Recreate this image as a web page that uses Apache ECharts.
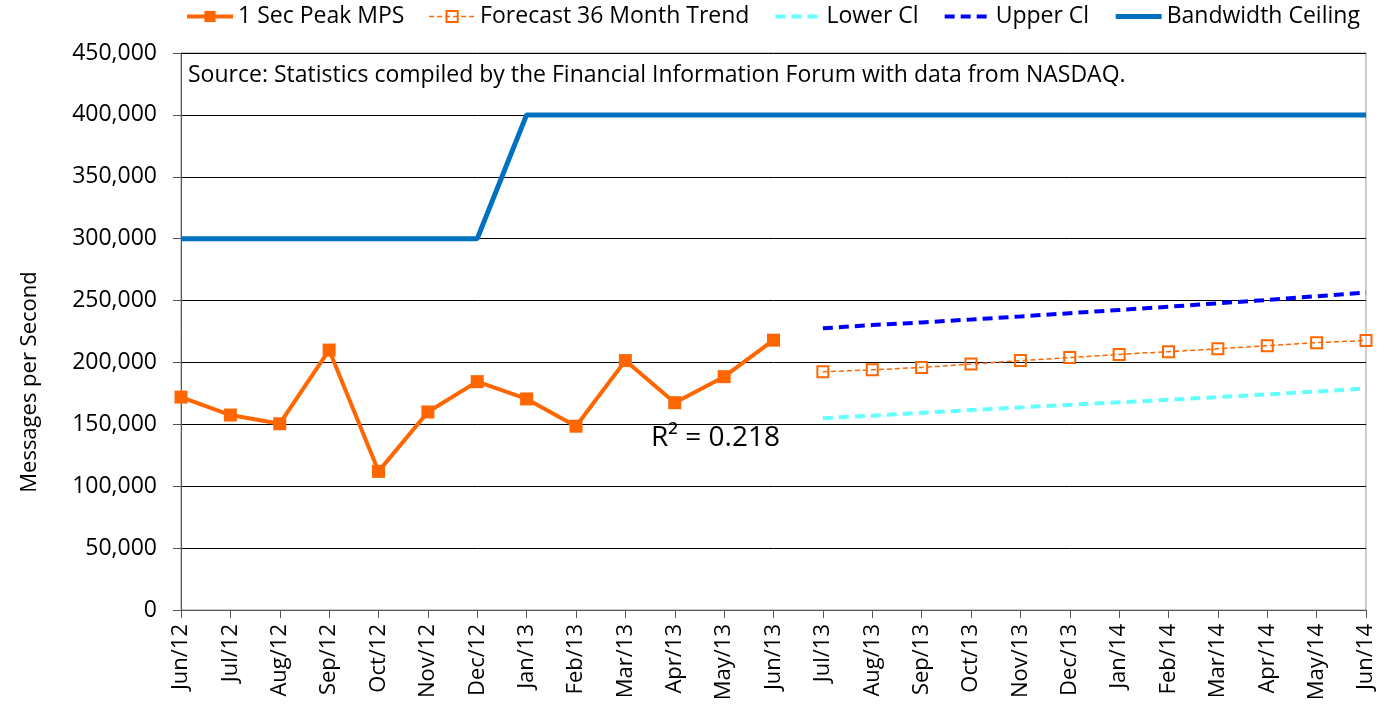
<!DOCTYPE html>
<html>
<head>
<meta charset="utf-8">
<script src="https://cdn.jsdelivr.net/npm/echarts@6/dist/echarts.min.js"></script>
<style>
  html, body { margin: 0; padding: 0; background: #fff; }
  #chart { width: 1384px; height: 716px; }
</style>
</head>
<body>
<div id="chart"></div>
<script>
const months = ['Jun/12', 'Jul/12', 'Aug/12', 'Sep/12', 'Oct/12', 'Nov/12', 'Dec/12',
  'Jan/13', 'Feb/13', 'Mar/13', 'Apr/13', 'May/13', 'Jun/13', 'Jul/13', 'Aug/13',
  'Sep/13', 'Oct/13', 'Nov/13', 'Dec/13', 'Jan/14', 'Feb/14', 'Mar/14', 'Apr/14',
  'May/14', 'Jun/14'];

// actual peaks (Jun/12 - Jun/13)
const peakMps = [172000, 157500, 150500, 210000, 112000, 160000, 184500, 170500,
  148500, 201500, 167500, 188500, 218000];

// forecast from Jul/13
const forecast = [192500, 194000, 196000, 198700, 201500, 204000, 206500, 208700,
  211000, 213500, 216000, 217800];
const lowerCi = [155000, 157000, 159300, 161500, 163700, 165800, 167800, 169800,
  172000, 174200, 176500, 179000];
const upperCi = [227600, 230200, 232300, 234700, 237200, 239800, 242400, 245000,
  247800, 250500, 253500, 256400];

const ceiling = [300000, 300000, 300000, 300000, 300000, 300000, 300000,
  400000, 400000, 400000, 400000, 400000, 400000, 400000, 400000, 400000,
  400000, 400000, 400000, 400000, 400000, 400000, 400000, 400000, 400000];

const yTicks = { min: 0, max: 450000, interval: 50000 };

const pad = n => new Array(n).fill(null);
const font = 'Open Sans, Noto Sans, sans-serif';
const noMarker = { opacity: 0 };

const chart = echarts.init(document.getElementById('chart'));
chart.setOption({
  animation: false,
  textStyle: { fontFamily: font },
  legend: {
    top: 0,
    left: 180,
    itemWidth: 46,
    itemHeight: 14,
    itemGap: 24,
    lineStyle: { width: 'inherit' },
    textStyle: { fontSize: 23, color: '#000', fontFamily: font },
    data: [
      { name: '1 Sec Peak MPS' },
      { name: 'Forecast 36 Month Trend' },
      { name: 'Lower Cl', itemStyle: noMarker },
      { name: 'Upper Cl', itemStyle: noMarker },
      { name: 'Bandwidth Ceiling', itemStyle: noMarker }
    ]
  },
  grid: {
    left: 181, right: 18, top: 53, bottom: 106,
    show: true, borderColor: '#999', borderWidth: 1
  },
  xAxis: {
    type: 'category',
    data: months,
    boundaryGap: false,
    axisLine: { lineStyle: { color: '#555', width: 1 } },
    axisTick: { show: true, length: 8, lineStyle: { color: '#555' } },
    axisLabel: { rotate: 90, fontSize: 22, color: '#000', margin: 14 },
    splitLine: { show: false }
  },
  yAxis: {
    type: 'value',
    min: yTicks.min,
    max: yTicks.max,
    interval: yTicks.interval,
    axisLine: { show: true, lineStyle: { color: '#555' } },
    axisTick: { show: true, length: 8, lineStyle: { color: '#555' } },
    axisLabel: {
      fontSize: 23, color: '#000', margin: 24,
      formatter: v => v.toLocaleString('en-US')
    },
    splitLine: { lineStyle: { color: '#000', width: 1 } }
  },
  graphic: [
    {
      type: 'text', x: 30, y: 382, rotation: Math.PI / 2,
      style: { text: 'Messages per Second', fontSize: 22, fill: '#000', fontFamily: font,
        align: 'center', verticalAlign: 'middle' }
    },
    {
      type: 'text', left: 188, top: 64,
      style: { text: 'Source: Statistics compiled by the Financial Information Forum with data from NASDAQ.',
        fontSize: 23, fill: '#000', fontFamily: font }
    },
    {
      type: 'text', left: 651, top: 424,
      style: { text: 'R² = 0.218', fontSize: 28, fill: '#000', fontFamily: font }
    }
  ],
  series: [
    {
      name: 'Bandwidth Ceiling',
      type: 'line',
      data: ceiling,
      symbol: 'none',
      lineStyle: { color: '#0070C0', width: 5 },
      itemStyle: { color: '#0070C0' },
      z: 1
    },
    {
      name: '1 Sec Peak MPS',
      type: 'line',
      data: peakMps,
      symbol: 'rect',
      symbolSize: 13,
      lineStyle: { color: '#FF6600', width: 4 },
      itemStyle: { color: '#FF6600' },
      z: 5
    },
    {
      name: 'Forecast 36 Month Trend',
      type: 'line',
      data: pad(13).concat(forecast),
      symbol: 'rect',
      symbolSize: 11,
      lineStyle: { color: '#FF6600', width: 1.5, type: [5, 3] },
      itemStyle: { color: 'rgba(255,255,255,0)', borderColor: '#FF6600', borderWidth: 2 },
      z: 4
    },
    {
      name: 'Lower Cl',
      type: 'line',
      data: pad(13).concat(lowerCi),
      symbol: 'none',
      lineStyle: { color: '#66FFFF', width: 4, type: [10, 6] },
      itemStyle: { color: '#66FFFF' },
      z: 3
    },
    {
      name: 'Upper Cl',
      type: 'line',
      data: pad(13).concat(upperCi),
      symbol: 'none',
      lineStyle: { color: '#0000FF', width: 4, type: [10, 6] },
      itemStyle: { color: '#0000FF' },
      z: 3
    }
  ]
});
</script>
</body>
</html>
